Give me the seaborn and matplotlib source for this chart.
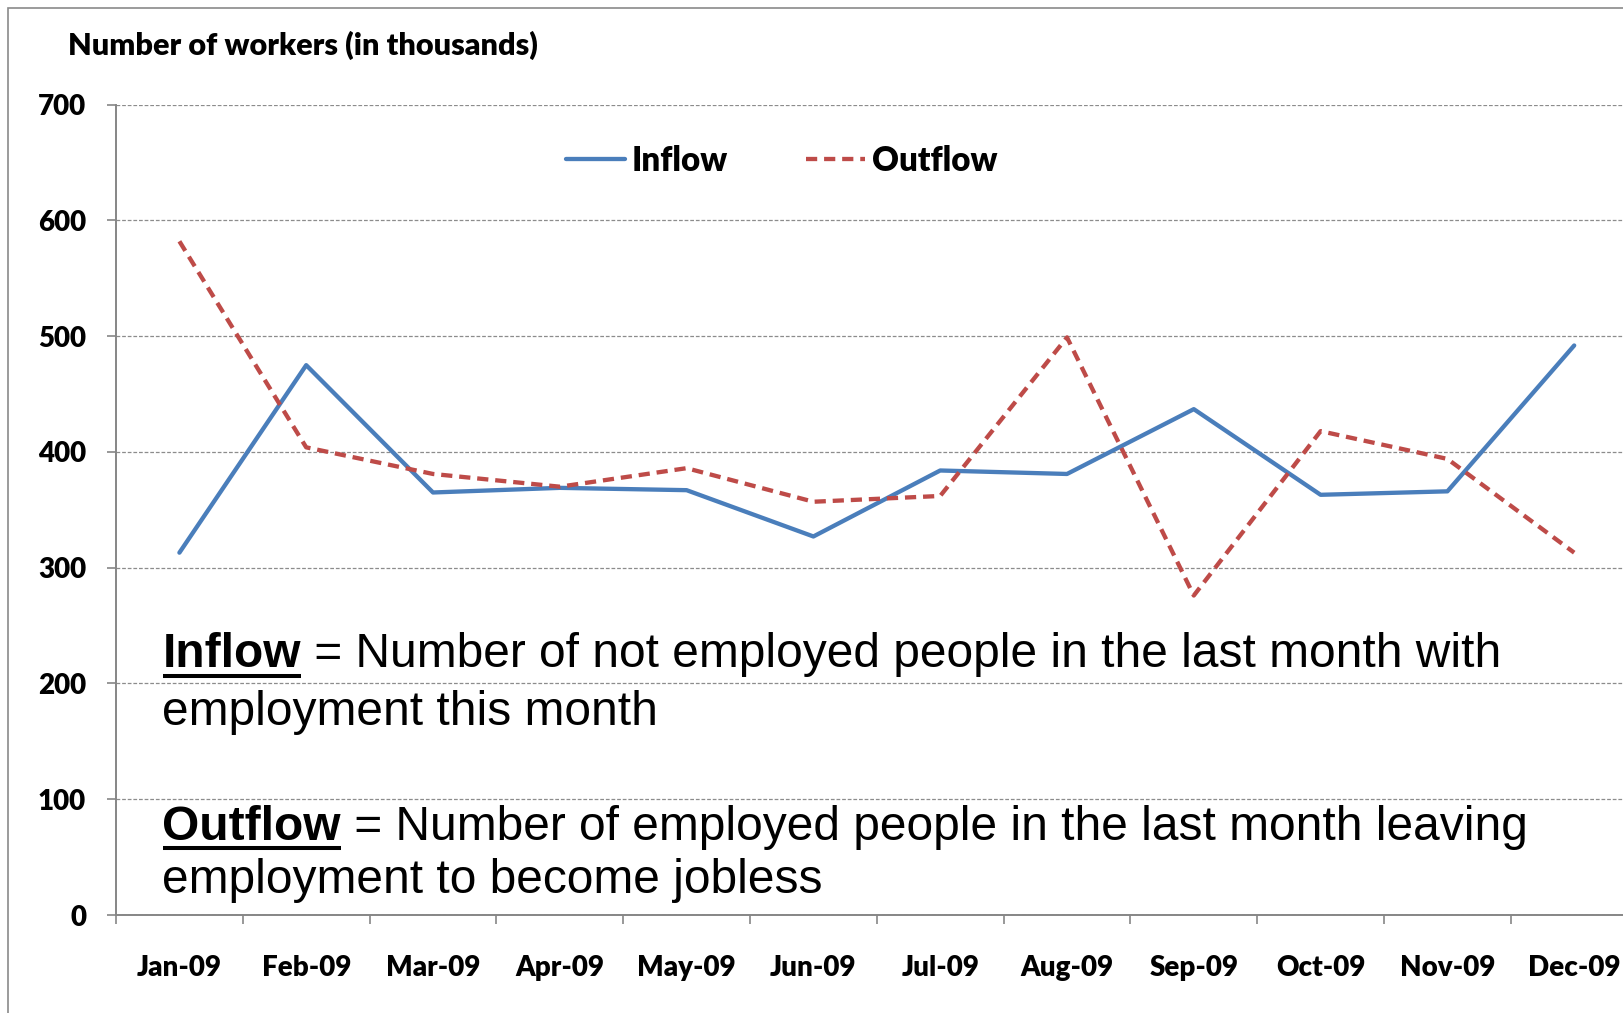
import matplotlib
matplotlib.use("Agg")
import matplotlib.pyplot as plt
from matplotlib.lines import Line2D
from matplotlib.patches import Rectangle
import numpy as np
import pandas as pd
import seaborn as sns

# Monthly labour-market flows, 2009 (thousands of workers)
months = ["Jan-09", "Feb-09", "Mar-09", "Apr-09", "May-09", "Jun-09",
          "Jul-09", "Aug-09", "Sep-09", "Oct-09", "Nov-09", "Dec-09"]
inflow = [313, 475, 365, 369, 367, 327, 384, 381, 437, 363, 366, 492]
outflow = [582, 404, 381, 370, 386, 357, 362, 499, 276, 418, 394, 313]
series_names = ["Inflow", "Outflow"]
y_ticks = [0, 100, 200, 300, 400, 500, 600, 700]

df = pd.DataFrame({
    "month": months * 2,
    "workers": inflow + outflow,
    "series": [series_names[0]] * len(months) + [series_names[1]] * len(months),
})

sns.set_theme(style="white")
LABEL_FONT = "Lato"
NOTE_FONT = "Liberation Sans"
plt.rcParams["font.family"] = [LABEL_FONT, "DejaVu Sans"]
plt.rcParams["text.color"] = "black"
plt.rcParams["axes.labelcolor"] = "black"
plt.rcParams["xtick.color"] = "black"
plt.rcParams["ytick.color"] = "black"

LABEL_WEIGHT = "heavy"

W, H = 1623, 1013
fig = plt.figure(figsize=(W / 100, H / 100), dpi=100)
fig.patch.set_facecolor("white")

# plot area runs past the right edge of the canvas
ax = fig.add_axes([116 / W, (H - 915) / H, 1521.6 / W, 810.3 / H])
ax.set_facecolor("white")

palette = {"Inflow": "#4A7EBB", "Outflow": "#BE4B48"}
sns.lineplot(data=df, x="month", y="workers", hue="series", style="series",
             hue_order=series_names, style_order=series_names,
             palette=palette, dashes={"Inflow": "", "Outflow": (2.6, 1.6)},
             linewidth=3.1, sort=False, legend=False, ax=ax, zorder=3)

ax.set_xlim(-0.5, len(months) - 0.5)
ax.set_ylim(0, 700)

# y axis
ax.set_yticks(y_ticks)
ax.set_yticklabels([str(v) for v in y_ticks], fontsize=20,
                   fontweight=LABEL_WEIGHT, family=[LABEL_FONT, "DejaVu Sans"],
                   color="black")
ax.tick_params(axis="y", which="major", left=True, length=6.5, width=1.2,
               color="#868686", pad=15, labelcolor="black")
ax.yaxis.grid(True, color="#8C8C8C", linestyle=(0, (3, 1.5)), linewidth=0.9)
ax.xaxis.grid(False)

# x axis: tick marks on category boundaries, labels at category centres
ax.set_xticks(np.arange(-0.5, len(months) + 0.5, 1.0))
ax.set_xticklabels([""] * (len(months) + 1))
ax.set_xticks(np.arange(len(months)), minor=True)
ax.set_xticklabels(months, minor=True, fontsize=20, fontweight=LABEL_WEIGHT,
                   family=[LABEL_FONT, "DejaVu Sans"], color="black")
ax.tick_params(axis="x", which="major", bottom=True, length=6.5, width=1.2,
               color="#868686", direction="out")
ax.tick_params(axis="x", which="minor", bottom=True, length=0, pad=29,
               labelcolor="black")
ax.set_xlabel("")
ax.set_ylabel("")

for side in ["top", "right"]:
    ax.spines[side].set_visible(False)
for side in ["left", "bottom"]:
    ax.spines[side].set_color("#868686")
    ax.spines[side].set_linewidth(1.4)
ax.spines["left"].set_zorder(4)

# legend
handles = [ax.lines[0], ax.lines[1]]
leg = ax.legend(handles, series_names, loc="center",
                bbox_to_anchor=(0.4815, 0.841), bbox_transform=fig.transFigure,
                ncol=2, frameon=False, handlelength=1.8, handletextpad=0.2,
                columnspacing=2.35,
                prop={"family": [LABEL_FONT, "DejaVu Sans"],
                      "weight": LABEL_WEIGHT, "size": 23.8})
for txt in leg.get_texts():
    txt.set_color("black")

# axis caption
fig.text(68 / W, 1 - 55 / H, "Number of workers (in thousands)",
         fontsize=22.1, fontweight=LABEL_WEIGHT, va="baseline", ha="left",
         family=[LABEL_FONT, "DejaVu Sans"], color="black")

# definitions block
fig.canvas.draw()
renderer = fig.canvas.get_renderer()
note_size = 34.5
x0 = 162.5 / W


def definition(term, rest, y_base, y_line, cont, y_cont):
    t = fig.text(x0, y_base, term, fontsize=note_size, fontweight="bold",
                 family=NOTE_FONT, va="baseline", ha="left", color="black")
    bb = t.get_window_extent(renderer)
    fig.text(bb.x1 / W, y_base, rest, fontsize=note_size, family=NOTE_FONT,
             va="baseline", ha="left", color="black")
    fig.add_artist(Line2D([bb.x0 / W, bb.x1 / W], [y_line, y_line],
                          transform=fig.transFigure, color="black",
                          linewidth=2.9, solid_capstyle="butt"))
    fig.text(x0, y_cont, cont, fontsize=note_size, family=NOTE_FONT,
             va="baseline", ha="left", color="black")


definition("Inflow", " = Number of not employed people in the last month with",
           1 - 666.7 / H, 1 - 676 / H, "employment this month", 1 - 725 / H)
definition("Outflow", " = Number of employed people in the last month leaving",
           1 - 840 / H, 1 - 848.3 / H, "employment to become jobless",
           1 - 893 / H)

# outer frame
fig.add_artist(Rectangle((8.3 / W, -0.1), 1.2, 1 - 8.3 / H + 0.1,
                         transform=fig.transFigure, fill=False,
                         edgecolor="#8A8A8A", linewidth=1.2))

fig.savefig("out.png", dpi=100, facecolor="white")
